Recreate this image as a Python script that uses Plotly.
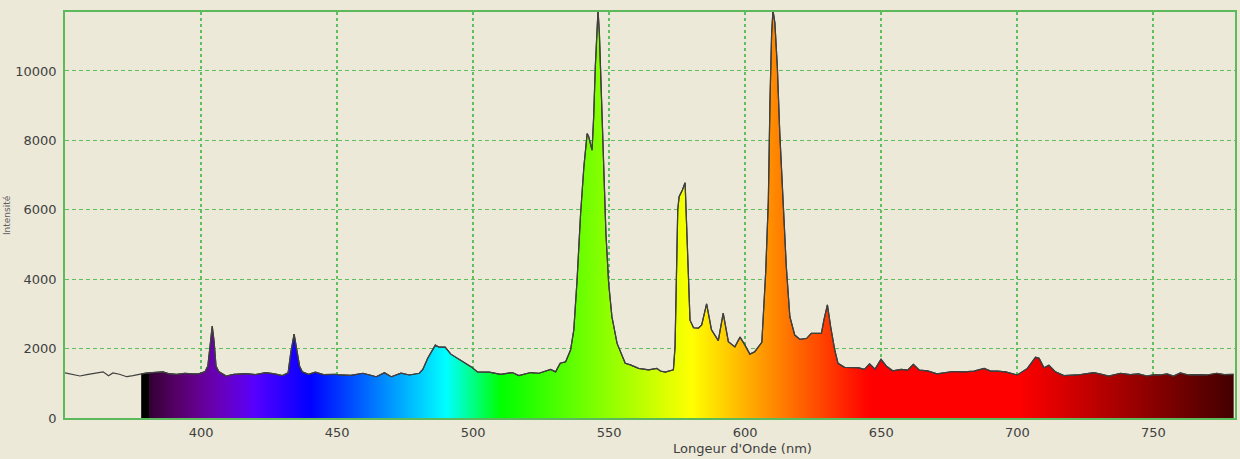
import numpy as np
import plotly.graph_objects as go

# ---- data ----
wavelength_nm = [
    350, 352, 355.5, 358, 361, 364, 366, 367.6, 370, 372.7, 375, 377.4, 378, 380,
    382, 386, 388, 391, 394, 397, 399.4, 401.5, 402.5, 403.5, 404.1, 404.8, 405.5,
    406.5, 409.2, 412, 416.5, 420, 423.8, 427, 429.9, 432, 433, 434.2, 435.2, 436.2,
    437.2, 439.5, 442, 445, 449.4, 451, 455, 459.5, 462, 464.4, 467.4, 469.9, 473.5,
    476.6, 480.2, 481.5, 483.3, 486.1, 487.5, 489.7, 491.8, 494.3, 496.7, 499.2,
    501.6, 505.9, 510.1, 514.4, 516.8, 521.1, 524.2, 528.5, 530.3, 532, 534, 535.8,
    537, 538.2, 539.5, 540.7, 541.9, 542.5, 543.7, 544.3, 544.9, 545.5, 545.9,
    546.4, 547.1, 548, 548.8, 549.8, 551, 552.9, 555.9, 557.8, 560.8, 564.5, 567.5,
    568.8, 570.6, 573.6, 574.2, 574.8, 575.2, 575.7, 576.9, 577.9, 578.5, 579.1,
    579.7, 581, 582.8, 584, 585.8, 587.6, 590.1, 591.9, 593.8, 596.2, 598.1, 599.9,
    601.7, 603.5, 606.1, 607.5, 608.5, 609.1, 609.7, 610.2, 610.9, 611.8, 612.7,
    613.9, 615.1, 616.4, 618.2, 620, 622.5, 624.3, 628, 628.9, 630.2, 631.4, 632.9,
    634.1, 636.5, 641.4, 643.8, 645.7, 647.7, 649.9, 651.8, 654.2, 657.3, 659.7,
    661.8, 664, 667, 670.5, 673, 676.2, 680.5, 684.1, 687.8, 690.2, 692.7, 695.7,
    700, 703.7, 706.7, 708, 709.8, 711.6, 714, 717.1, 722, 725, 728.1, 731, 733.6,
    737.9, 741.5, 744.5, 747.6, 750, 752.5, 755, 757.4, 759.9, 762.9, 766, 769.6,
    773.3, 776, 779.5,
]
intensity = [
    1300, 1260, 1210, 1250, 1280, 1330, 1220, 1300, 1260, 1190, 1220, 1260, 1270, 1300,
    1310, 1330, 1280, 1260, 1290, 1270, 1280, 1340, 1500, 2200, 2650, 2200, 1500,
    1340, 1210, 1260, 1280, 1250, 1310, 1270, 1220, 1300, 1900, 2420, 2000, 1500,
    1330, 1260, 1320, 1250, 1260, 1240, 1230, 1290, 1240, 1190, 1305, 1190, 1290,
    1240, 1290, 1400, 1720, 2100, 2040, 2040, 1840, 1720, 1590, 1480,
    1330, 1320, 1260, 1310, 1220, 1310, 1290, 1400, 1330, 1580, 1620, 1960,
    2540, 3980, 5900, 7240, 8200, 8100, 7720, 8680, 10120, 11080, 11750,
    11080, 9160, 7240, 5330, 3890, 2920, 2150, 1575, 1530, 1430, 1390, 1430,
    1355, 1320, 1390, 2050, 4360, 6000, 6380, 6570, 6780, 5500, 3800,
    2820, 2600, 2590, 2680, 3290, 2540, 2230, 3020, 2200, 2050, 2330, 2100,
    1840, 1910, 2180, 4170, 6280, 9160, 11080, 11750, 11380, 10120, 8200,
    6280, 4360, 2920, 2390, 2270, 2290, 2440, 2440, 2820, 3260, 2630, 1960,
    1575, 1460, 1450, 1400, 1560, 1410, 1690, 1500, 1360, 1400, 1380,
    1545, 1380, 1360, 1270, 1310, 1340, 1330, 1350, 1430, 1350, 1350, 1330,
    1240, 1430, 1750, 1720, 1450, 1520, 1330, 1220, 1240, 1270, 1310, 1260, 1210,
    1290, 1250, 1270, 1210, 1240, 1240, 1270, 1210, 1300, 1240, 1250, 1240,
    1290, 1250, 1260,
]
x_ticks = [400, 450, 500, 550, 600, 650, 700, 750]
y_ticks = [0, 2000, 4000, 6000, 8000, 10000]
x_title = "Longeur d'Onde (nm)"
y_title = "Intensité"
fill_start_nm = 378
fill_end_nm = 780


# ---- spectral colour of a wavelength (style only) ----
def wl_rgb(w):
    if w < 381:
        return (0, 0, 0)
    if w < 440:
        r, g, b = -(w - 440) / 60, 0.0, 1.0
    elif w < 490:
        r, g, b = 0.0, (w - 440) / 50, 1.0
    elif w < 510:
        r, g, b = 0.0, 1.0, -(w - 510) / 20
    elif w < 580:
        r, g, b = (w - 510) / 70, 1.0, 0.0
    elif w < 645:
        r, g, b = 1.0, -(w - 645) / 65, 0.0
    else:
        r, g, b = 1.0, 0.0, 0.0
    if w < 420:
        f = 0.2 + 0.8 * (w - 381) / 39
    elif w <= 700:
        f = 1.0
    else:
        f = 0.25 + 0.75 * (780 - w) / 80
    return tuple(int(round(255 * max(0, min(1, c * f)))) for c in (r, g, b))


span = fill_end_nm - fill_start_nm
stops = [fill_start_nm, 380.9, 381.0] + list(range(382, 781, 2))
colorscale = []
for w in stops:
    r, g, b = wl_rgb(w)
    colorscale.append([(w - fill_start_nm) / span, f"rgb({r},{g},{b})"])
colorscale[-1][0] = 1.0

wl = np.array(wavelength_nm)
it = np.array(intensity)
mask = wl >= fill_start_nm

fig = go.Figure()
fig.add_trace(go.Scatter(
    x=wl[mask], y=it[mask], mode="lines", fill="tozeroy",
    fillgradient=dict(type="horizontal", colorscale=colorscale,
                      start=fill_start_nm, stop=fill_end_nm),
    line=dict(color="#303030", width=1.2), hoverinfo="skip", showlegend=False,
))
fig.add_trace(go.Scatter(
    x=wl, y=it, mode="lines",
    line=dict(color="#404040", width=1.2), showlegend=False,
))

bg = "#ece9d8"
grid = "#5fbf5f"
fig.update_layout(
    width=1240, height=459,
    margin=dict(l=65, r=3, t=12, b=41),
    paper_bgcolor=bg, plot_bgcolor=bg,
    font=dict(family="DejaVu Sans", size=13, color="#404040"),
    showlegend=False,
)
fig.update_xaxes(
    range=[350, 780], tickvals=x_ticks, ticks="", showgrid=True,
    gridcolor=grid, gridwidth=1.5, griddash="dot",
    showline=True, linecolor="#5cba5c", linewidth=1.5, mirror=True,
    zeroline=False, ticklabelstandoff=2,
)
fig.update_yaxes(
    range=[0, 11700], tickvals=y_ticks, tickformat="d", ticks="", showgrid=True,
    gridcolor=grid, gridwidth=1, griddash="4px,3px",
    showline=True, linecolor="#5cba5c", linewidth=1.5, mirror=True,
    zeroline=False, ticklabelstandoff=4,
)
fig.add_annotation(
    text=x_title, xref="paper", yref="paper", x=0.579, y=0, yshift=-30,
    xanchor="center", yanchor="middle", showarrow=False,
    font=dict(family="DejaVu Sans", size=13, color="#404040"),
)
fig.add_annotation(
    text=y_title, xref="paper", yref="paper", x=-0.0495, y=0.5,
    textangle=-90, xanchor="center", yanchor="middle", showarrow=False,
    font=dict(family="DejaVu Sans", size=9, color="#606060"),
)
fig.write_html(
    "out.html",
    config={"displayModeBar": False},
    post_script="document.body.style.margin='0';document.body.style.overflow='hidden';",
)
